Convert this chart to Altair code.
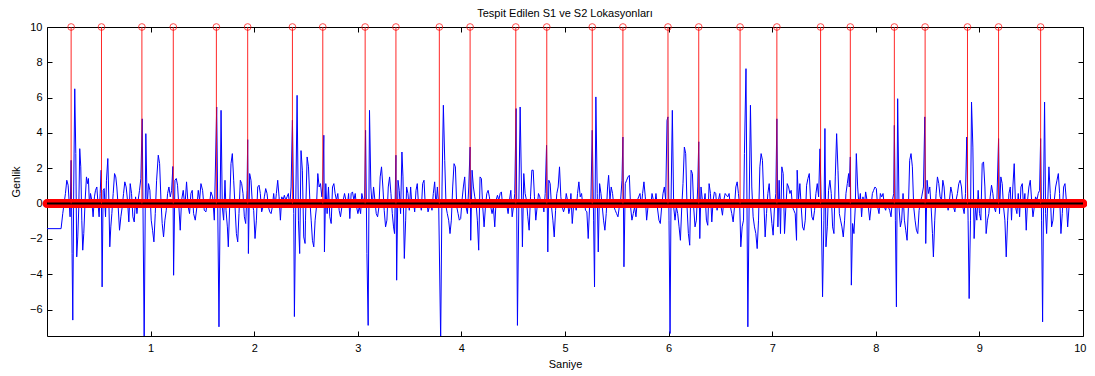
import altair as alt
import pandas as pd

# ---- signal readings (time in s, amplitude) ----
seg01 = [(0.000,-1.42),(0.136,-1.42),(0.152,-0.57),(0.178,0.57),(0.191,1.32),(0.204,1.04),(0.217,-0.19),(0.223,-0.75),
         (0.233,2.45),(0.242,-2.83),(0.249,-6.6),(0.258,0.94),(0.268,6.5),(0.278,2.83),(0.287,-3.02),(0.297,-1.89),
         (0.307,-0.19),(0.316,3.11),(0.326,2.08),(0.336,-0.94),(0.345,-2.64),(0.355,-1.7),(0.368,0.19),(0.381,1.51),
         (0.391,1.13),(0.400,1.42),(0.410,-0.19),(0.420,0.57),(0.432,0.19),(0.445,-0.75),(0.458,0.38),(0.468,0.75),
         (0.481,0.94),(0.490,0.19),(0.503,-0.75),(0.513,0.57),(0.523,1.89),(0.532,-4.72),(0.542,0.75),(0.552,0.85),
         (0.565,-0.75),(0.574,1.32),(0.587,2.55),(0.597,0.19),(0.606,-2.45),(0.616,-1.32),(0.626,-0.57),(0.639,0.57),
         (0.652,1.70),(0.664,1.51),(0.674,0.94),(0.687,-0.19),(0.700,-1.51),(0.713,-0.75),(0.726,-0.19),(0.739,0.57),
         (0.751,1.23),(0.764,0.94),(0.777,0.19),(0.790,-1.04)]
seg02 = [(0.803,1.13),(0.816,0.57),(0.829,-0.75),(0.842,-1.04),(0.855,0.38),(0.868,-0.57),(0.880,0.19),(0.893,0.75),
         (0.906,1.42),(0.919,4.8),(0.938,-7.8),(0.954,3.96),(0.967,-0.19),(0.980,1.13),(0.993,0.75),(1.006,-0.94),
         (1.019,-1.51),(1.032,-2.17),(1.045,-0.57),(1.058,1.32),(1.074,2.74),(1.087,2.26),(1.100,0.19),(1.112,-1.13),
         (1.125,-1.89),(1.138,-0.94),(1.151,-0.38),(1.164,0.57),(1.177,0.94),(1.190,0.38),(1.203,0.75),(1.215,2.1),
         (1.222,-4.06),(1.235,1.32),(1.248,1.42),(1.260,1.04),(1.273,-0.19),(1.286,-1.51),(1.299,0.19),(1.315,0.75),
         (1.331,-0.19),(1.347,1.23),(1.363,-0.19),(1.376,-0.57),(1.389,0.57),(1.402,0.75),(1.415,-0.57),(1.431,-0.94),
         (1.447,-0.19),(1.460,0.75),(1.473,0.19),(1.486,1.13),(1.502,0.75),(1.518,-0.38),(1.534,-0.47),(1.550,0.19),
         (1.566,-0.19),(1.582,0.66),(1.599,0.38),(1.615,-0.94)]
seg03 = [(1.638,5.47),(1.660,-6.98),(1.680,5.28),(1.692,-0.19),(1.705,-0.94),(1.718,1.32),(1.728,-0.38),(1.741,-1.32),
         (1.750,-2.45),(1.763,-0.19),(1.776,2.26),(1.789,2.83),(1.802,1.32),(1.815,-0.19),(1.828,-1.7),(1.841,-2.17),
         (1.853,-0.57),(1.866,1.32),(1.879,1.13),(1.892,0.57),(1.905,-0.75),(1.918,-1.13),(1.931,0.75),(1.937,3.62),
         (1.944,-2.83),(1.956,1.7),(1.969,1.32),(1.982,0.0),(1.995,-0.38),(2.008,-1.98),(2.021,-0.94),(2.034,0.94),
         (2.047,1.04),(2.059,0.57),(2.072,-0.47),(2.085,-0.19),(2.098,0.38),(2.111,0.85),(2.124,0.57),(2.137,-0.19),
         (2.150,-0.47),(2.163,-0.57),(2.175,-0.19),(2.188,0.57),(2.201,-0.19),(2.214,0.57),(2.227,1.32),(2.240,0.38),
         (2.253,-0.94),(2.266,0.38),(2.278,0.19),(2.291,0.47),(2.304,0.19),(2.317,0.38),(2.330,0.57),(2.343,-0.19),
         (2.356,0.94),(2.369,4.72),(2.382,-0.57),(2.388,-6.4),(2.401,-0.19),(2.414,6.13),(2.427,-0.94),(2.439,-2.83),
         (2.452,3.0),(2.465,1.89),(2.478,-1.89),(2.491,-2.26)]
seg04 = [(2.495,-0.94),(2.511,2.64),(2.524,2.08),(2.537,0.19),(2.550,-0.94),(2.562,-2.08),(2.575,-2.45),(2.588,-0.94),
         (2.601,-0.19),(2.614,1.7),(2.627,0.94),(2.640,1.13),(2.653,0.38),(2.662,0.94),(2.672,3.87),(2.678,-2.74),
         (2.691,1.13),(2.704,-0.57),(2.717,0.94),(2.730,-0.75),(2.743,-1.13),(2.756,0.94),(2.769,1.13),(2.781,0.57),
         (2.794,0.19),(2.807,0.57),(2.820,-0.38),(2.833,-0.75),(2.846,-0.19),(2.859,0.19),(2.872,0.57),(2.885,0.19),
         (2.898,-0.19),(2.911,0.57),(2.923,-0.85),(2.936,0.57),(2.949,0.66),(2.962,0.19),(2.975,0.57),(2.988,-0.19),
         (3.001,-0.57),(3.014,-0.19),(3.027,-0.57),(3.039,0.57),(3.052,0.19),(3.065,-0.19),(3.075,4.15),(3.088,-2.83),
         (3.100,-6.9),(3.113,5.28),(3.126,0.94),(3.139,-0.19),(3.152,0.94),(3.165,0.19),(3.178,-0.57),(3.191,-0.75),
         (3.204,-0.19),(3.216,1.51),(3.229,2.08),(3.242,0.94),(3.255,-0.38),(3.268,-1.32),(3.281,-0.94),(3.294,0.94),
         (3.307,1.51),(3.320,0.57),(3.333,-0.57),(3.345,-1.32)]
seg05 = [(3.355,-1.7),(3.368,2.74),(3.375,-4.34),(3.388,1.32),(3.400,0.75),(3.413,-0.57),(3.426,2.92),(3.436,1.51),
         (3.449,-3.11),(3.462,-0.94),(3.471,0.94),(3.484,0.57),(3.497,-0.38),(3.510,0.94),(3.523,-0.19),(3.536,0.19),
         (3.549,-0.47),(3.562,0.75),(3.574,1.13),(3.587,-0.19),(3.600,0.19),(3.613,-0.38),(3.626,1.13),(3.639,1.32),
         (3.652,-0.19),(3.665,0.19),(3.678,-0.47),(3.690,-0.19),(3.703,0.19),(3.716,-0.38),(3.729,0.57),(3.742,1.23),
         (3.755,-0.19),(3.768,0.94),(3.781,-0.09),(3.800,-7.8),(3.813,0.94),(3.826,5.57),(3.839,2.45),(3.852,-0.19),
         (3.864,-0.57),(3.877,-0.94),(3.890,-1.7),(3.903,-0.94),(3.916,0.94),(3.929,2.26),(3.942,2.08),(3.955,-0.19),
         (3.968,-0.57),(3.980,-0.94),(3.993,-0.85),(4.006,0.19),(4.019,0.94),(4.032,1.51),(4.045,-0.19),(4.058,-0.57),
         (4.071,0.94),(4.084,3.2),(4.090,-2.08),(4.103,1.89),(4.116,0.94),(4.129,0.38),(4.142,0.0),(4.154,-0.94),
         (4.167,-2.64),(4.180,1.51),(4.193,1.42)]
seg06 = [(4.206,-0.19),(4.219,-1.32),(4.232,-0.19),(4.245,0.57),(4.258,0.75),(4.270,0.38),(4.283,-0.19),(4.296,-0.57),
         (4.309,-0.19),(4.322,-1.32),(4.335,0.19),(4.348,0.47),(4.361,0.19),(4.374,0.57),(4.386,0.66),(4.399,-0.19),
         (4.412,0.19),(4.425,-0.19),(4.438,-0.09),(4.451,-0.57),(4.464,0.19),(4.477,0.75),(4.490,-0.75),(4.502,-0.19),
         (4.515,0.57),(4.528,5.38),(4.541,-6.9),(4.554,-0.19),(4.567,5.47),(4.580,0.94),(4.589,-2.45),(4.602,1.7),
         (4.615,0.57),(4.628,0.19),(4.641,-0.75),(4.654,-1.51),(4.667,0.38),(4.680,1.89),(4.693,1.89),(4.705,0.38),
         (4.718,-0.94),(4.731,-0.19),(4.744,0.57),(4.757,0.38),(4.770,-0.19),(4.783,0.19),(4.796,-0.47),(4.809,0.57),
         (4.822,3.3),(4.834,-2.74),(4.844,1.32),(4.857,1.13),(4.870,-0.19),(4.883,-0.94),(4.896,-1.89),(4.909,-0.38),
         (4.921,0.57),(4.934,0.94),(4.947,2.08),(4.960,0.38),(4.973,-0.19),(4.986,-0.47),(4.999,-0.19),(5.012,0.57),
         (5.024,0.19),(5.037,-0.57),(5.050,-0.19)]
seg07 = [(5.057,0.57),(5.070,-1.13),(5.082,-0.19),(5.095,0.19),(5.108,-0.38),(5.121,0.57),(5.134,1.23),(5.147,0.38),
         (5.160,0.57),(5.173,-0.19),(5.186,0.19),(5.198,-0.38),(5.211,-0.47),(5.224,-1.98),(5.237,-0.19),(5.250,0.19),
         (5.263,4.15),(5.276,-0.94),(5.285,-4.72),(5.298,6.04),(5.311,0.57),(5.321,-2.74),(5.334,1.13),(5.347,0.57),
         (5.360,-0.19),(5.372,-0.94),(5.385,-1.51),(5.398,-0.57),(5.411,0.94),(5.421,1.6),(5.434,0.19),(5.446,0.94),
         (5.459,0.57),(5.472,-0.19),(5.485,-0.38),(5.498,-0.57),(5.511,-0.75),(5.524,-0.19),(5.537,0.19),(5.550,1.32),
         (5.559,3.77),(5.569,-3.58),(5.582,1.13),(5.595,1.32),(5.608,1.51),(5.621,1.6),(5.633,-0.19),(5.646,-0.94),
         (5.659,-0.57),(5.672,-0.19),(5.685,-0.75),(5.698,0.19),(5.711,0.38),(5.724,0.57),(5.737,-0.19),(5.749,0.57),
         (5.762,1.23),(5.775,0.38),(5.788,-0.94),(5.801,-0.19),(5.814,0.19),(5.827,-0.19),(5.840,0.57),(5.853,0.19),
         (5.865,-0.19),(5.878,0.57),(5.891,-0.19)]
seg08 = [(5.907,-0.94),(5.920,-1.13),(5.933,-0.19),(5.946,0.57),(5.959,0.94),(5.972,0.19),(5.985,4.72),(5.994,4.91),
         (6.004,-0.94),(6.014,-7.36),(6.023,-0.19),(6.036,5.28),(6.049,-0.19),(6.062,-0.94),(6.075,-0.19),(6.088,-0.57),
         (6.101,-1.32),(6.114,-2.08),(6.127,-0.19),(6.139,1.13),(6.152,3.2),(6.165,2.83),(6.178,-0.19),(6.191,-1.7),
         (6.204,-2.36),(6.217,1.89),(6.230,1.7),(6.242,-0.19),(6.255,-1.32),(6.268,-0.94),(6.281,0.94),(6.291,3.5),
         (6.301,-1.98),(6.313,0.94),(6.326,0.19),(6.339,-0.19),(6.352,0.57),(6.365,-0.94),(6.378,-1.23),(6.391,1.13),
         (6.404,0.57),(6.417,-1.04),(6.430,0.19),(6.442,0.66),(6.455,0.57),(6.468,-0.38),(6.481,0.19),(6.494,0.57),
         (6.507,-0.19),(6.520,-0.66),(6.533,0.19),(6.546,0.57),(6.558,0.47),(6.571,0.38),(6.584,0.57),(6.597,-0.19),
         (6.610,-0.57),(6.623,-1.04),(6.636,-0.19),(6.649,0.94),(6.662,1.23),(6.674,0.57),(6.687,-0.19),(6.697,-2.45),
         (6.710,-1.32),(6.723,-0.94),(6.732,2.83),(6.747,7.64)]
seg09 = [(6.765,-6.98),(6.777,-0.19),(6.790,5.57),(6.803,0.94),(6.816,-0.75),(6.829,-1.32),(6.842,-1.7),(6.855,-2.55),
         (6.868,-0.94),(6.881,2.08),(6.893,2.83),(6.906,2.45),(6.919,0.19),(6.932,-1.89),(6.945,-0.57),(6.958,0.57),
         (6.971,1.13),(6.984,-0.19),(6.997,-1.13),(7.009,-1.79),(7.022,-0.19),(7.035,0.57),(7.045,4.8),(7.055,-1.32),
         (7.067,1.32),(7.080,-1.7),(7.093,2.08),(7.106,1.7),(7.119,-1.7),(7.132,-0.19),(7.145,1.13),(7.158,0.94),
         (7.171,0.57),(7.183,0.75),(7.196,-0.19),(7.209,-0.38),(7.222,-0.57),(7.235,-2.08),(7.241,1.89),(7.254,0.19),
         (7.267,1.13),(7.280,-0.19),(7.293,-1.32),(7.306,-1.51),(7.319,-0.94),(7.332,1.04),(7.345,1.42),(7.358,1.7),
         (7.370,0.19),(7.383,-0.75),(7.396,-0.94),(7.409,-0.38),(7.422,0.57),(7.435,1.13),(7.448,0.38),(7.461,3.1),
         (7.474,-0.19),(7.486,-5.28),(7.499,-0.94),(7.509,4.25),(7.519,-2.45),(7.532,-1.32),(7.544,0.75),(7.557,1.32),
         (7.570,0.57),(7.583,-1.32),(7.596,-1.7)]
seg10 = [(7.609,1.51),(7.622,3.96),(7.635,1.89),(7.648,-0.57),(7.660,-0.94),(7.673,-1.32),(7.686,-1.89),(7.699,-0.94),
         (7.712,0.57),(7.725,1.13),(7.738,1.7),(7.744,0.94),(7.754,2.64),(7.764,-4.62),(7.776,-1.13),(7.789,-1.7),
         (7.802,-0.19),(7.812,2.83),(7.825,0.94),(7.838,-0.19),(7.851,0.57),(7.863,-0.75),(7.876,0.38),(7.889,-0.19),
         (7.902,0.66),(7.915,0.19),(7.928,-0.19),(7.941,-0.94),(7.954,-0.19),(7.967,0.57),(7.979,0.75),(7.992,0.94),
         (8.005,0.85),(8.018,-0.19),(8.031,-0.57),(8.044,0.57),(8.057,0.38),(8.070,0.57),(8.083,-0.19),(8.095,-0.38),
         (8.108,0.0),(8.121,-0.19),(8.134,-0.38),(8.147,-0.75),(8.160,0.19),(8.173,0.57),(8.179,4.43),(8.189,-0.94),
         (8.199,-5.85),(8.211,5.94),(8.224,-0.19),(8.237,-1.32),(8.250,-0.94),(8.263,0.57),(8.276,-0.94),(8.289,-1.51),
         (8.302,-2.08),(8.315,-0.19),(8.327,2.45),(8.340,2.83),(8.353,2.08),(8.366,-0.19),(8.379,-0.94),(8.392,-1.51),
         (8.405,-1.7),(8.418,-0.38),(8.431,0.09),(8.443,0.38)]
seg11 = [(8.460,0.94),(8.473,4.91),(8.482,-2.26),(8.495,1.32),(8.508,0.57),(8.521,0.94),(8.534,-0.19),(8.547,-1.7),
         (8.556,-3.02),(8.569,-0.94),(8.582,0.57),(8.595,1.51),(8.608,1.13),(8.621,0.38),(8.634,0.19),(8.647,1.32),
         (8.659,0.94),(8.672,-0.19),(8.685,0.19),(8.698,-0.38),(8.711,0.19),(8.724,0.94),(8.737,0.57),(8.750,-0.19),
         (8.763,-0.47),(8.775,0.19),(8.788,0.57),(8.801,1.13),(8.814,1.32),(8.827,0.94),(8.840,-0.19),(8.853,-0.57),
         (8.866,0.57),(8.878,3.77),(8.891,-0.94),(8.901,-5.38),(8.914,-0.94),(8.924,5.75),(8.937,3.2),(8.949,-1.98),
         (8.962,-0.19),(8.975,-0.94),(8.988,0.75),(9.001,-0.57),(9.014,-0.94),(9.027,2.26),(9.040,2.36),(9.053,0.94),
         (9.065,-1.7),(9.078,-0.94),(9.091,-0.57),(9.104,0.38),(9.117,1.04),(9.130,0.57),(9.143,-0.19),(9.156,-0.47),
         (9.169,0.19),(9.185,3.68),(9.194,-0.57),(9.207,1.51),(9.220,1.13),(9.233,-0.19),(9.246,-0.94),(9.259,-3.02),
         (9.272,-0.94),(9.285,0.57),(9.298,0.94)]
seg12 = [(9.310,-0.94),(9.323,0.94),(9.336,2.26),(9.349,-0.19),(9.362,-0.57),(9.375,0.57),(9.388,-0.75),(9.401,0.94),
         (9.414,1.13),(9.426,-0.19),(9.439,0.57),(9.452,-1.51),(9.465,0.19),(9.478,0.94),(9.491,1.32),(9.504,0.19),
         (9.517,-0.75),(9.530,-0.19),(9.542,0.38),(9.555,0.19),(9.568,0.57),(9.581,0.75),(9.591,3.68),(9.600,-0.94),
         (9.610,-6.7),(9.620,0.94),(9.629,5.75),(9.639,-0.57),(9.649,-1.7),(9.658,-0.19),(9.671,2.08),(9.684,0.57),
         (9.697,-1.32),(9.710,-0.94),(9.723,0.19),(9.736,0.94),(9.749,1.32),(9.762,1.7),(9.774,0.57),(9.787,-1.7),
         (9.800,-0.57),(9.813,0.94),(9.826,1.13),(9.839,0.19),(9.852,-1.32),(9.865,-0.19)]

# ---- detected S1 / S2 locations (s) ----
stem_times = [0.233, 0.526, 0.916, 1.219, 1.635, 1.937, 2.369, 2.662, 3.071, 3.368, 3.787, 4.084, 4.525, 4.824,
              5.263, 5.559, 5.994, 6.291, 6.690, 7.045, 7.467, 7.754, 8.179, 8.476, 8.885, 9.185, 9.591]
stem_height = 10
baseline_range = [0.0, 10.0]
x_ticks = [1, 2, 3, 4, 5, 6, 7, 8, 9, 10]
y_ticks = [-6, -4, -2, 0, 2, 4, 6, 8, 10]

pairs = seg01 + seg02 + seg03 + seg04 + seg05 + seg06 + seg07 + seg08 + seg09 + seg10 + seg11 + seg12
sig = pd.DataFrame(pairs, columns=["t", "amp"])
stems = pd.DataFrame({"t": stem_times, "top": [stem_height] * len(stem_times), "base": [0] * len(stem_times)})
base = pd.DataFrame({"t0": [baseline_range[0]], "t1": [baseline_range[1]], "y": [0.0]})

FONT = "Liberation Sans"
xs = alt.Scale(domain=[0, 10], nice=False, zero=False)
ys = alt.Scale(domain=[-7.5, 10], nice=False, zero=False)

common = dict(domain=False, grid=False, tickSize=5, tickColor="black", tickWidth=1, offset=-5,
              labelFont=FONT, labelFontSize=11, labelColor="black", titleFont=FONT, titleFontSize=11,
              titleFontWeight="normal", titleColor="black")

x_bottom = alt.Axis(values=x_ticks, orient="bottom", title="Saniye", labelPadding=6, titlePadding=5,
                    labelFlush=True, labelFlushOffset=3, labelOverlap=False, **common)
y_left = alt.Axis(values=y_ticks, orient="left", title="Genlik", labelPadding=5, titlePadding=8,
                  labelFlush=False, labelOverlap=False, **common)
x_top = alt.Axis(values=x_ticks, orient="top", title=None, labels=False, **common)
y_right = alt.Axis(values=y_ticks, orient="right", title=None, labels=False, **common)

signal = alt.Chart(sig).mark_line(color="#0000FF", strokeWidth=1, clip=True).encode(
    x=alt.X("t:Q", scale=xs, axis=x_bottom),
    y=alt.Y("amp:Q", scale=ys, axis=y_left),
)

band = alt.Chart(base).mark_rule(color="#FF0000", strokeWidth=9, strokeCap="round").encode(
    x=alt.X("t0:Q", scale=xs, axis=x_top),
    x2="t1:Q",
    y=alt.Y("y:Q", scale=ys, axis=y_right),
)

baseline = alt.Chart(base).mark_rule(color="black", strokeWidth=2).encode(
    x=alt.X("t0:Q", scale=xs, axis=None),
    x2="t1:Q",
    y=alt.Y("y:Q", scale=ys, axis=None),
)

stem_lines = alt.Chart(stems).mark_rule(color="#FF0000", strokeWidth=1, opacity=0.85).encode(
    x=alt.X("t:Q", scale=xs, axis=None),
    y=alt.Y("base:Q", scale=ys, axis=None),
    y2="top:Q",
)

stem_heads = alt.Chart(stems).mark_point(shape="circle", filled=False, color="#FF0000", size=45,
                                         strokeWidth=1).encode(
    x=alt.X("t:Q", scale=xs, axis=None),
    y=alt.Y("top:Q", scale=ys, axis=None),
)

chart = alt.layer(signal, band, baseline, stem_lines, stem_heads).resolve_axis(
    x="independent", y="independent"
).properties(
    width=1036,
    height=309,
    padding={"left": 39, "top": 19, "right": 4, "bottom": 34},
    autosize=alt.AutoSizeParams(type="none"),
    background="white",
    title=alt.TitleParams("Tespit Edilen S1 ve S2 Lokasyonları", font=FONT, fontSize=11,
                          fontWeight="normal", color="black", anchor="middle", offset=2),
).configure_view(stroke="black", strokeWidth=1)

chart.save("out.html", embed_options={"renderer": "svg", "actions": False})
